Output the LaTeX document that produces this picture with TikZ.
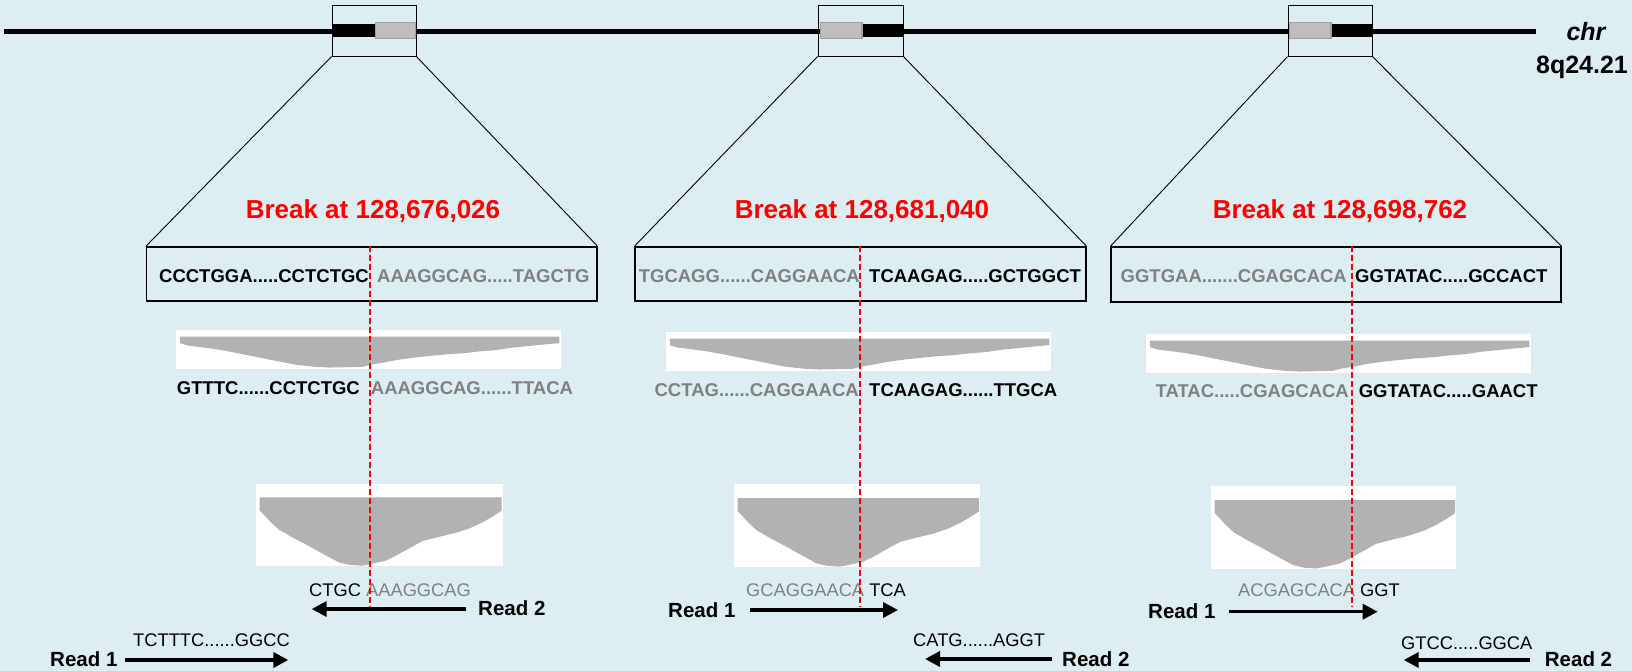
\documentclass[tikz,border=0pt]{standalone}
\usepackage{fontspec}
\setmainfont{Liberation Sans}
\usetikzlibrary{arrows.meta}
\definecolor{bg}{RGB}{220,238,241}
\definecolor{brkred}{RGB}{255,0,0}
\definecolor{seqgray}{RGB}{128,128,128}
\definecolor{plotgray}{RGB}{178,178,178}
\definecolor{segfill}{RGB}{190,190,190}
\definecolor{segdraw}{RGB}{160,160,160}

\newcommand\covSmall[4]{%
  \fill[white] (#1,#2) rectangle ++(#3,#4);
  \begin{scope}[shift={(#1,#2)},xscale=#3,yscale=#4]
    \fill[plotgray] (.010,.17) -- (.996,.17) -- (.996,.34) -- (.96,.37) -- (.92,.41) -- (.87,.46) -- (.83,.52) -- (.79,.55) -- (.746,.60) -- (.70,.63) -- (.66,.67) -- (.62,.71) -- (.573,.775) -- (.54,.84) -- (.504,.90) -- (.486,.95) -- (.45,.96) -- (.40,.97) -- (.36,.95) -- (.313,.90) -- (.27,.82) -- (.227,.73) -- (.18,.64) -- (.14,.56) -- (.10,.49) -- (.054,.43) -- (.03,.40) -- (.01,.34) -- cycle;
  \end{scope}}
\newcommand\covLarge[4]{%
  \fill[white] (#1,#2) rectangle ++(#3,#4);
  \begin{scope}[shift={(#1,#2)},xscale=#3,yscale=#4]
    \fill[plotgray] (.015,.17) -- (.996,.17) -- (.996,.33) -- (.96,.40) -- (.92,.47) -- (.87,.54) -- (.81,.60) -- (.74,.65) -- (.675,.70) -- (.62,.79) -- (.566,.88) -- (.525,.94) -- (.48,.97) -- (.43,1.0) -- (.38,.99) -- (.336,.96) -- (.28,.87) -- (.214,.76) -- (.15,.66) -- (.092,.56) -- (.06,.47) -- (.038,.40) -- (.015,.33) -- cycle;
  \end{scope}}

\begin{document}
\begin{tikzpicture}[x=1pt,y=-1pt,
  zoombox/.style={draw=black,line width=1pt,inner sep=0pt,minimum height=51pt},
  seqbox/.style={draw=black,line width=1.3pt,inner sep=0pt,minimum height=54pt},
  seqb/.style={font=\fontsize{18.5}{20}\selectfont\bfseries,inner sep=0pt},
  readseq/.style={font=\fontsize{18.3}{20}\selectfont,inner sep=0pt,anchor=base west},
  readlab/.style={font=\fontsize{20.5}{22}\selectfont\bfseries,inner sep=0pt,anchor=base west},
  brk/.style={font=\fontsize{26}{28}\selectfont\bfseries,text=brkred,inner sep=0pt,anchor=base},
  arr/.style={line width=3.5pt,-{Triangle[length=15pt,width=15pt]}},
  brkline/.style={brkred,line width=1.8pt,dash pattern=on 6pt off 3pt},
  funnel/.style={black,line width=0.9pt},
  segbar/.style={fill=black},
  seggray/.style={fill=segfill,draw=segdraw,line width=1.2pt}]

\fill[bg] (0,0) rectangle (1632,671);
\useasboundingbox (0,0) rectangle (1632,671);

% chromosome
\coordinate (cl) at (4,31.7);
\coordinate (cr) at (1536,31.7);
\draw[line width=5.5pt] (cl) -- (cr);

% segments
\fill[segbar] (332,24.3) rectangle (375,36.7);
\filldraw[seggray] (375.6,22.6) rectangle (415.4,38.7);
\fill[segbar] (862,24.3) rectangle (903,36.7);
\filldraw[seggray] (820.6,22.6) rectangle (862,38.7);
\fill[segbar] (1331,24.3) rectangle (1372,36.7);
\filldraw[seggray] (1289.6,22.6) rectangle (1331,38.7);

\node[zoombox,minimum width=84pt] (z1) at (374,30.6) {};
\node[zoombox,minimum width=85pt] (z2) at (860.5,30.6) {};
\node[zoombox,minimum width=84pt] (z3) at (1330,30.6) {};

% chr label
\node[font=\fontsize{25}{27}\selectfont\bfseries\itshape,inner sep=0pt,anchor=base] (chr) at (1586,40.7) {chr};
\node[font=\fontsize{25}{27}\selectfont\bfseries,inner sep=0pt,anchor=base] (band) at (1582,73.3) {8q24.21};

% sequence boxes
\node[seqbox,minimum width=450.5pt] (s1) at (371.75,274) {};
\node[seqbox,minimum width=451pt] (s2) at (860.5,274) {};
\node[seqbox,minimum width=450pt,minimum height=55pt] (s3) at (1336,274.5) {};

\draw[funnel] (z1.south west) -- (s1.north west);
\draw[funnel] (z1.south east) -- (s1.north east);
\draw[funnel] (z2.south west) -- (s2.north west);
\draw[funnel] (z2.south east) -- (s2.north east);
\draw[funnel] (z3.south west) -- (s3.north west);
\draw[funnel] (z3.south east) -- (s3.north east);

% break labels
\node[brk] (b1) at (373,218.3) {Break at 128,676,026};
\node[brk] (b2) at (862,218.3) {Break at 128,681,040};
\node[brk] (b3) at (1340,218.3) {Break at 128,698,762};

% reference sequences in boxes
\node[seqb,anchor=base east] (r1a) at (369,282) {CCCTGGA.....CCTCTGC};
\node[seqb,anchor=base west,text=seqgray] (r1b) at (377,282) {AAAGGCAG.....TAGCTG};
\node[seqb,anchor=base east,text=seqgray] (r2a) at (860,282) {TGCAGG......CAGGAACA};
\node[seqb,anchor=base west] (r2b) at (869,282) {TCAAGAG.....GCTGGCT};
\node[seqb,anchor=base east,text=seqgray] (r3a) at (1347,282) {GGTGAA.......CGAGCACA};
\node[seqb,anchor=base west] (r3b) at (1355,282) {GGTATAC.....GCCACT};

% small coverage plots
\covSmall{176}{330}{385}{38.7}
\covSmall{666}{332}{385}{38.7}
\covSmall{1146}{334}{385}{38.7}

% second row sequences
\node[seqb,anchor=base east] (q1a) at (360,394) {GTTTC......CCTCTGC};
\node[seqb,anchor=base west,text=seqgray] (q1b) at (370.7,394) {AAAGGCAG......TTACA};
\node[seqb,anchor=base east,text=seqgray] (q2a) at (859,396) {CCTAG......CAGGAACA};
\node[seqb,anchor=base west] (q2b) at (869,396) {TCAAGAG......TTGCA};
\node[seqb,anchor=base east,text=seqgray] (q3a) at (1349,397) {TATAC.....CGAGCACA};
\node[seqb,anchor=base west] (q3b) at (1358.6,397) {GGTATAC.....GAACT};

% large coverage plots
\covLarge{256}{483.5}{246.7}{82.2}
\covLarge{734}{484}{246}{82.7}
\covLarge{1211}{486}{245}{82.5}

% junction read sequences
\node[readseq] (j1) at (309,596) {CTGC \textcolor{seqgray}{AAAGGCAG}};
\node[readseq] (j2) at (746,596.5) {\textcolor{seqgray}{GCAGGAACA} TCA};
\node[readseq] (j3) at (1238,596.7) {\textcolor{seqgray}{ACGAGCACA} GGT};

% reads panel 1
\node[readlab] (p1r2) at (478,615) {Read 2};
\coordinate (p1r2t) at (465.7,609);
\coordinate (p1r2h) at (311.7,609);
\draw[arr] (p1r2t) -- (p1r2h);
\node[readseq] (p1s) at (133,646) {TCTTTC......GGCC};
\node[readlab] (p1r1) at (50,666.7) {Read 1};
\coordinate (p1r1t) at (125,660);
\coordinate (p1r1h) at (288.3,660);
\draw[arr] (p1r1t) -- (p1r1h);

% reads panel 2
\node[readlab] (p2r1) at (668,617) {Read 1};
\coordinate (p2r1t) at (750,610);
\coordinate (p2r1h) at (898,610);
\draw[arr] (p2r1t) -- (p2r1h);
\node[readseq] (p2s) at (913,646) {CATG......AGGT};
\node[readlab] (p2r2) at (1062,666.5) {Read 2};
\coordinate (p2r2t) at (1052,659);
\coordinate (p2r2h) at (925,659);
\draw[arr] (p2r2t) -- (p2r2h);

% reads panel 3
\node[readlab] (p3r1) at (1148,618) {Read 1};
\coordinate (p3r1t) at (1229.3,611.7);
\coordinate (p3r1h) at (1377.7,611.7);
\draw[arr] (p3r1t) -- (p3r1h);
\node[readseq] (p3s) at (1401,649.3) {GTCC.....GGCA};
\node[readlab] (p3r2) at (1544.7,666.7) {Read 2};
\coordinate (p3r2t) at (1530.3,660);
\coordinate (p3r2h) at (1403.7,660);
\draw[arr] (p3r2t) -- (p3r2h);

% break lines
\coordinate (d1b) at (370,606.5);
\coordinate (d2b) at (860,606.5);
\coordinate (d3b) at (1352,607.3);
\draw[brkline] (s1.north -| d1b) -- (d1b);
\draw[brkline] (s2.north -| d2b) -- (d2b);
\draw[brkline] (s3.north -| d3b) -- (d3b);
\end{tikzpicture}
\end{document}
